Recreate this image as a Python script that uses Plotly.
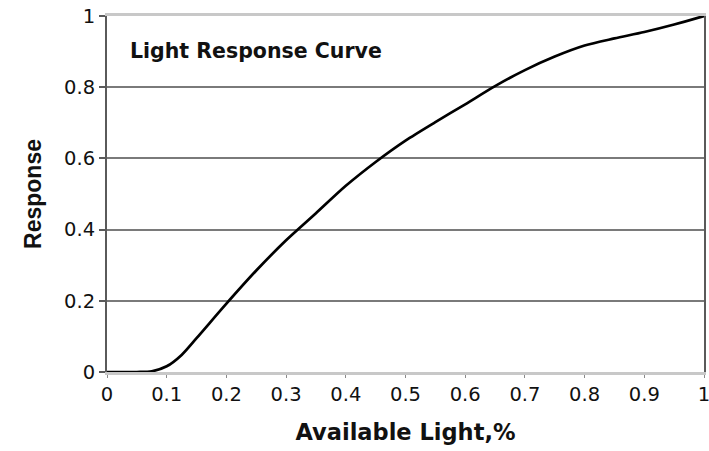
import plotly.graph_objects as go

available_light = [0.0, 0.05, 0.075, 0.1, 0.125, 0.15, 0.2, 0.25, 0.3, 0.35, 0.4, 0.45,
                   0.5, 0.55, 0.6, 0.65, 0.7, 0.75, 0.8, 0.85, 0.9, 0.95, 1.0]
response = [0.0, 0.0, 0.002, 0.016, 0.048, 0.095, 0.192, 0.285, 0.37, 0.446, 0.523, 0.59,
            0.65, 0.702, 0.752, 0.803, 0.848, 0.886, 0.917, 0.937, 0.955, 0.976, 1.0]

x_ticks = [0, 0.1, 0.2, 0.3, 0.4, 0.5, 0.6, 0.7, 0.8, 0.9, 1]
x_tick_labels = ["0", "0.1", "0.2", "0.3", "0.4", "0.5", "0.6", "0.7", "0.8", "0.9", "1"]
y_ticks = [0, 0.2, 0.4, 0.6, 0.8, 1]
y_tick_labels = ["0", "0.2", "0.4", "0.6", "0.8", "1"]

fig = go.Figure()
fig.add_trace(go.Scatter(
    x=available_light, y=response, mode="lines",
    line=dict(color="#000000", width=2.7, shape="spline", smoothing=0.8),
    showlegend=False, hoverinfo="skip"))

tick_font = dict(family="DejaVu Sans", size=19.5, color="#111111")

fig.update_layout(
    width=709, height=451, autosize=False,
    margin=dict(l=107, r=5, t=16, b=79),
    paper_bgcolor="white", plot_bgcolor="white",
    xaxis=dict(
        range=[0, 1], tickvals=x_ticks, ticktext=x_tick_labels,
        showgrid=False, zeroline=False, automargin=False,
        ticklabeloverflow="allow",
        showline=True, linecolor="#c8c8c8", linewidth=2.5, mirror=True,
        ticks="outside", ticklen=3, tickwidth=1, tickcolor="#8a8a8a",
        tickfont=tick_font,
        title=dict(text="<b>Available Light,%</b>",
                   font=dict(family="DejaVu Sans", size=22.5, color="#111111"),
                   standoff=20),
    ),
    yaxis=dict(
        range=[0, 1], tickvals=y_ticks, ticktext=y_tick_labels,
        showgrid=True, gridcolor="#7a7a7a", gridwidth=1.6, zeroline=False,
        automargin=False, ticklabeloverflow="allow",
        showline=True, linecolor="#5a5a5a", linewidth=2, mirror=True,
        ticks="outside", ticklen=6, tickwidth=1.6, tickcolor="#5a5a5a",
        tickfont=tick_font,
        title=dict(text="<b>Response</b>",
                   font=dict(family="Liberation Sans", size=23, color="#111111"),
                   standoff=16),
    ),
    annotations=[dict(
        text="<b>Light Response Curve</b>", xref="paper", yref="paper",
        x=0.036, y=0.902, xanchor="left", yanchor="middle", showarrow=False,
        font=dict(family="DejaVu Sans", size=20.5, color="#111111"))],
)

fig.write_html("out.html", config={"displayModeBar": False},
               post_script="document.body.style.margin='0px';")
